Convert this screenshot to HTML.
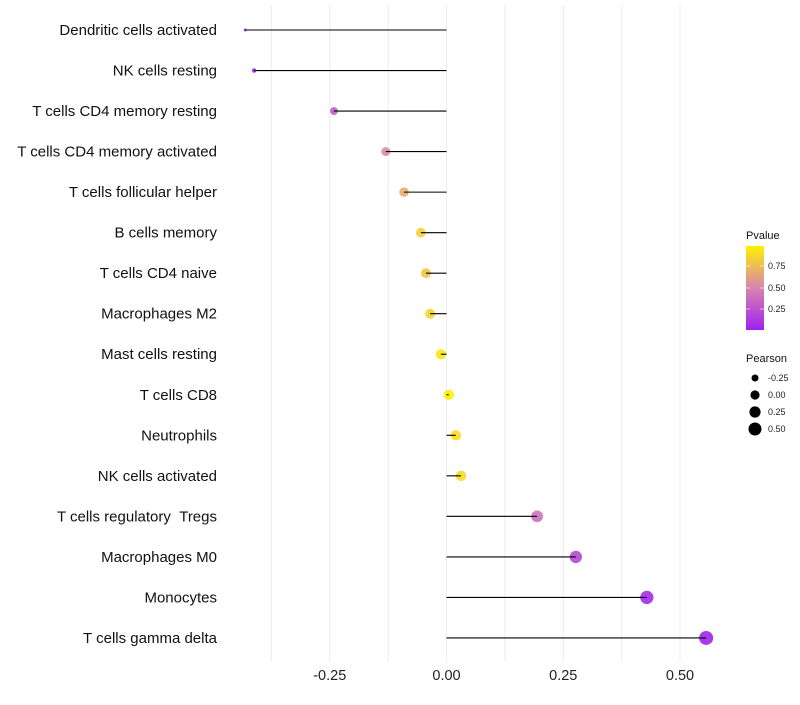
<!DOCTYPE html>
<html><head><meta charset="utf-8"><style>
body{margin:0;background:#fff;font-family:"Liberation Sans",sans-serif}
</style></head><body>
<svg id="c" width="800" height="700" xmlns="http://www.w3.org/2000/svg">
<g id="grid"></g><g id="marks"></g><g id="labels"></g><g id="legend"></g>
</svg>
<script>
const categories=["Dendritic cells activated","NK cells resting","T cells CD4 memory resting","T cells CD4 memory activated","T cells follicular helper","B cells memory","T cells CD4 naive","Macrophages M2","Mast cells resting","T cells CD8","Neutrophils","NK cells activated","T cells regulatory\u00a0\u00a0Tregs","Macrophages M0","Monocytes","T cells gamma delta"];
const pearson=[-0.431,-0.412,-0.241,-0.130,-0.091,-0.055,-0.044,-0.035,-0.012,0.005,0.020,0.031,0.194,0.277,0.429,0.556];
const pvalue=[0.02,0.05,0.3,0.55,0.7,0.85,0.8,0.88,0.96,0.99,0.92,0.9,0.4,0.2,0.05,0.01];
const xTicks=[-0.25,0,0.25,0.5];
const xTickLabels=["-0.25","0.00","0.25","0.50"];
const NS="http://www.w3.org/2000/svg";
const X=v=>446.5+v*467;
const Y=i=>30+i*40.53;
const R=v=>1.5+5.5*Math.sqrt(Math.max(0,(v+0.431)/0.987));
function col(p){const a=[160,32,240],m=[216,132,176],b=[255,240,0];let s,e,t;if(p<0.5){s=a;e=m;t=p/0.5}else{s=m;e=b;t=(p-0.5)/0.5}return `rgb(${s.map((c,k)=>Math.round(c+(e[k]-c)*t)).join(',')})`;}
function mk(tag,at,par){const e=document.createElementNS(NS,tag);for(const k in at)e.setAttribute(k,at[k]);document.getElementById(par).appendChild(e);return e;}
for(let g=-0.375;g<=0.501;g+=0.125){const l=mk('line',{x1:X(g),x2:X(g),y1:5,y2:662,stroke:'#ededed','stroke-width':1},'grid');

}
xTicks.forEach((t,i)=>{const e=mk('text',{x:X(t),y:680,'text-anchor':'middle','font-size':14.5,fill:'#222'},'labels');e.textContent=xTickLabels[i];

});
categories.forEach((c,i)=>{
const t=mk('text',{x:217,y:Y(i)+5,'text-anchor':'end','font-size':15,fill:'#111'},'labels');t.textContent=c;


const p=mk('circle',{cx:X(pearson[i]),cy:Y(i),r:R(pearson[i]),fill:col(pvalue[i]),'fill-opacity':0.9},'marks');


const l=mk('line',{x1:X(0),x2:X(pearson[i]),y1:Y(i),y2:Y(i),stroke:'#000','stroke-width':1.1},'marks');


});
const lg=document.getElementById('legend');
lg.innerHTML=`<defs><linearGradient id="gr" x1="0" y1="1" x2="0" y2="0"><stop offset="0" stop-color="rgb(160,32,240)"/><stop offset="0.5" stop-color="rgb(216,132,176)"/><stop offset="1" stop-color="rgb(255,240,0)"/></linearGradient></defs>
<text x="746" y="239" font-size="11" fill="#111">Pvalue</text>
<rect x="746" y="246" width="18" height="84" fill="url(#gr)"/>
<g stroke="#fff" stroke-opacity="0.6"><line x1="746" x2="750" y1="266" y2="266"/><line x1="760" x2="764" y1="266" y2="266"/><line x1="746" x2="750" y1="288" y2="288"/><line x1="760" x2="764" y1="288" y2="288"/><line x1="746" x2="750" y1="309" y2="309"/><line x1="760" x2="764" y1="309" y2="309"/></g>
<g font-size="9" fill="#222"><text x="768" y="269">0.75</text><text x="768" y="291">0.50</text><text x="768" y="312">0.25</text></g>
<text x="746" y="362" font-size="11" fill="#111">Pearson</text>
<g fill="#000"><circle cx="755" cy="378" r="3.5"/><circle cx="755" cy="395" r="4.6"/><circle cx="755" cy="412" r="5.6"/><circle cx="755" cy="429" r="6.5"/></g>
<g font-size="9" fill="#222"><text x="768" y="381">-0.25</text><text x="768" y="398">0.00</text><text x="768" y="415">0.25</text><text x="768" y="432">0.50</text></g>`;
</script>
</body></html>
